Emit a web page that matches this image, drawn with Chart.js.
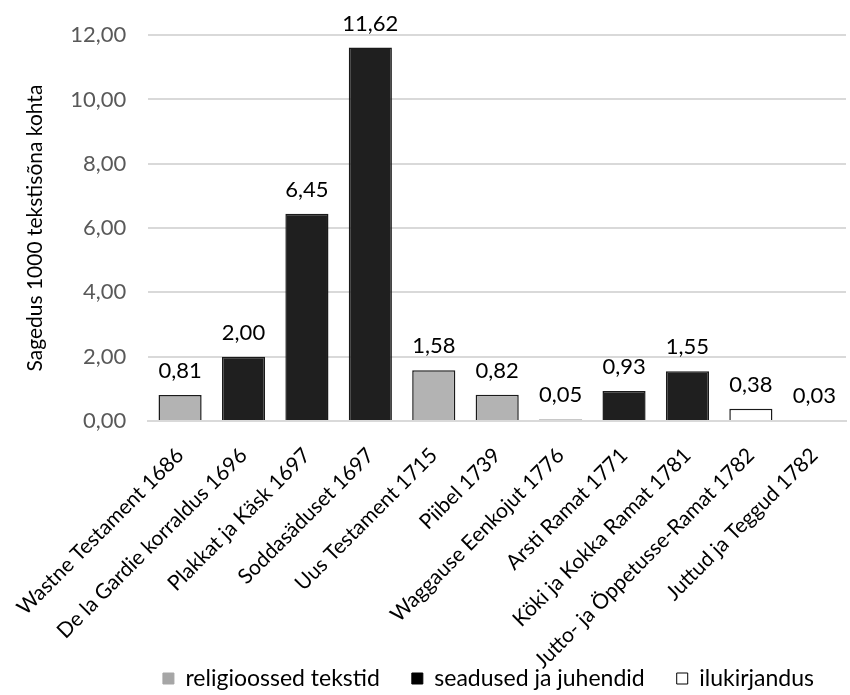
<!DOCTYPE html>
<html>
<head>
<meta charset="utf-8">
<script src="https://cdn.jsdelivr.net/npm/chart.js@4"></script>
<style>
  html, body { margin: 0; padding: 0; background: #fff; }
  #wrap { width: 850px; height: 695px; }
</style>
</head>
<body>
<div id="wrap"><canvas id="chart"></canvas></div>
<script>
// andmed
const kategooriad = [
  'Wastne Testament 1686', 'De la Gardie korraldus 1696', 'Plakkat ja Käsk 1697',
  'Soddasäduset 1697', 'Uus Testament 1715', 'Piibel 1739', 'Waggause Eenkojut 1776',
  'Arsti Ramat 1771', 'Köki ja Kokka Ramat 1781', 'Jutto- ja Öppetusse-Ramat 1782',
  'Juttud ja Teggud 1782'
];
const sagedused = [0.81, 2.00, 6.45, 11.62, 1.58, 0.82, 0.05, 0.93, 1.55, 0.38, 0.03];
// 0 = religioossed, 1 = seadused, 2 = ilukirjandus
const tekstiliik = [0, 1, 1, 1, 0, 0, 1, 1, 1, 2, 1];
const liigid = ['religioossed tekstid', 'seadused ja juhendid', 'ilukirjandus'];
const yTicks = [0, 2, 4, 6, 8, 10, 12];

const liigiVarvid = ['#b3b3b3', '#1f1f1f', '#ffffff'];
const FONT = 'Lato, "Open Sans", sans-serif';

const arv = v => v.toFixed(2).replace('.', ',');

// väärtused tulpade kohale
const vaartusteSilt = {
  id: 'vaartusteSilt',
  afterDatasetsDraw(chart) {
    const ctx = chart.ctx;
    const meta = chart.getDatasetMeta(0);
    ctx.save();
    ctx.font = '22px ' + FONT;
    ctx.fillStyle = '#000';
    ctx.textAlign = 'center';
    ctx.textBaseline = 'bottom';
    meta.data.forEach((bar, i) => {
      ctx.fillText(arv(sagedused[i]), bar.x, bar.y - 13);
    });
    ctx.restore();
  }
};

new Chart(document.getElementById('chart'), {
  type: 'bar',
  data: {
    labels: kategooriad,
    datasets: [{
      data: sagedused,
      backgroundColor: tekstiliik.map(t => liigiVarvid[t]),
      borderColor: '#1a1a1a',
      borderWidth: 1.5,
      barPercentage: 0.68,
      categoryPercentage: 1
    }]
  },
  options: {
    responsive: true,
    maintainAspectRatio: false,
    animation: false,
    layout: { padding: { top: 26, right: 4, left: 19, bottom: -5 } },
    plugins: {
      tooltip: { enabled: false },
      legend: {
        position: 'bottom',
        align: 'end',
        labels: {
          font: { family: FONT, size: 23 },
          color: '#000',
          boxWidth: 11,
          boxHeight: 11,
          padding: 32,
          generateLabels: () => liigid.map((nimi, i) => ({
            text: nimi,
            fillStyle: i === 0 ? '#a6a6a6' : (i === 1 ? '#000' : '#fff'),
            strokeStyle: i === 0 ? '#a6a6a6' : '#000',
            lineWidth: 1,
            datasetIndex: 0,
            index: i
          }))
        }
      }
    },
    scales: {
      x: {
        grid: { display: false },
        border: { color: '#d9d9d9', width: 2 },
        afterFit: axis => {
          axis.height = 214;
          // sildid võivad ulatuda legendi alasse nagu originaalis
          axis._computeLabelArea = () => null;
        },
        ticks: {
          color: '#000',
          font: { family: FONT, size: 21 },
          minRotation: 45,
          maxRotation: 45,
          autoSkip: false,
          padding: 14
        }
      },
      y: {
        min: 0,
        max: 12,
        afterBuildTicks: axis => { axis.ticks = yTicks.map(v => ({ value: v })); },
        grid: { color: '#d9d9d9', lineWidth: 2, drawTicks: false },
        border: { display: false },
        ticks: {
          color: '#595959',
          font: { family: FONT, size: 22 },
          padding: 22,
          callback: v => arv(v)
        },
        title: {
          display: true,
          text: 'Sagedus 1000 tekstisõna kohta',
          color: '#000',
          font: { family: FONT, size: 21 },
          padding: { top: 4, bottom: 0 }
        }
      }
    }
  },
  plugins: [vaartusteSilt]
});
</script>
</body>
</html>
